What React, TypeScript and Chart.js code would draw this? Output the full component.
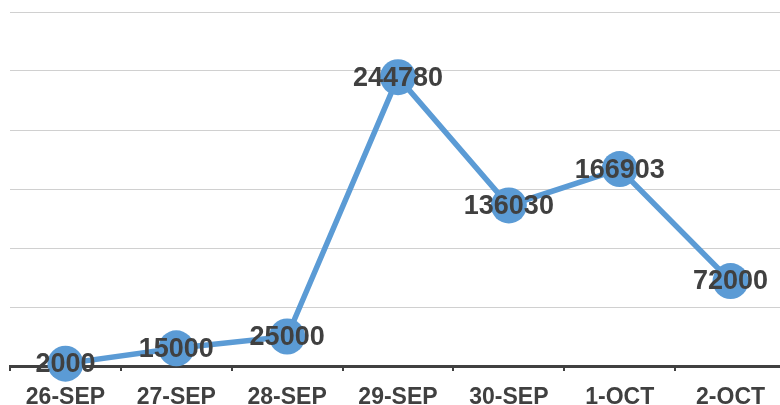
import React, { useEffect, useRef } from "react";
import { Chart, registerables } from "chart.js";

Chart.register(...registerables);

const categories = ["26-SEP", "27-SEP", "28-SEP", "29-SEP", "30-SEP", "1-OCT", "2-OCT"];
const values = [2000, 15000, 25000, 244780, 136030, 166903, 72000];
const yMin = 0;
const yMax = 300000;
const yStep = 50000;

const labelPlugin = {
  id: "pointLabels",
  afterDatasetsDraw(chart: any) {
    const ctx = chart.ctx;
    const meta = chart.getDatasetMeta(0);
    ctx.save();
    ctx.font = "bold 27px Arial, 'Liberation Sans', sans-serif";
    ctx.fillStyle = "#404040";
    ctx.textAlign = "center";
    ctx.textBaseline = "middle";
    meta.data.forEach((pt: any, i: number) => {
      ctx.fillText(String(values[i]), pt.x, pt.y + 1);
    });
    ctx.restore();
  },
};

export default function App() {
  const ref = useRef<HTMLCanvasElement>(null);
  useEffect(() => {
    document.body.style.margin = "0";
    document.body.style.overflow = "hidden";
    const chart = new Chart(ref.current!, {
      type: "line",
      data: {
        labels: categories,
        datasets: [
          {
            data: values,
            borderColor: "#5b9bd5",
            backgroundColor: "#5b9bd5",
            borderWidth: 5.5,
            pointRadius: 18,
            pointBackgroundColor: "#5b9bd5",
            pointBorderColor: "#5b9bd5",
            pointBorderWidth: 0,
            tension: 0,
            clip: false as any,
          },
        ],
      },
      options: {
        responsive: false,
        animation: false,
        layout: { autoPadding: false, padding: { left: 10, right: 4, top: 12, bottom: 0 } },
        plugins: { legend: { display: false }, tooltip: { enabled: false } },
        scales: {
          x: {
            offset: true,
            grid: {
              offset: true,
              drawOnChartArea: false,
              drawTicks: true,
              tickLength: 5,
              color: "#404040",
              lineWidth: 2,
            },
            border: { display: true, color: "#404040", width: 3 },
            ticks: {
              color: "#404040",
              font: { family: "Arial, 'Liberation Sans', sans-serif", size: 23, weight: "bold" },
              padding: 13,
              maxRotation: 0,
              autoSkip: false,
            },
            afterFit: (s: any) => {
              s.height = 39;
            },
          },
          y: {
            min: yMin,
            max: yMax,
            ticks: { display: false, stepSize: yStep },
            grid: { color: "#d0d0d0", lineWidth: 1, drawTicks: false },
            border: { display: false },
            afterFit: (s: any) => {
              s.width = 0;
            },
          },
        },
      },
      plugins: [labelPlugin],
    });
    return () => chart.destroy();
  }, []);
  return (
    <div style={{ position: "absolute", left: 0, top: 0, width: 780, height: 405, overflow: "hidden", background: "#fff" }}>
      <canvas ref={ref} width={790} height={405} style={{ display: "block" }} />
    </div>
  );
}
